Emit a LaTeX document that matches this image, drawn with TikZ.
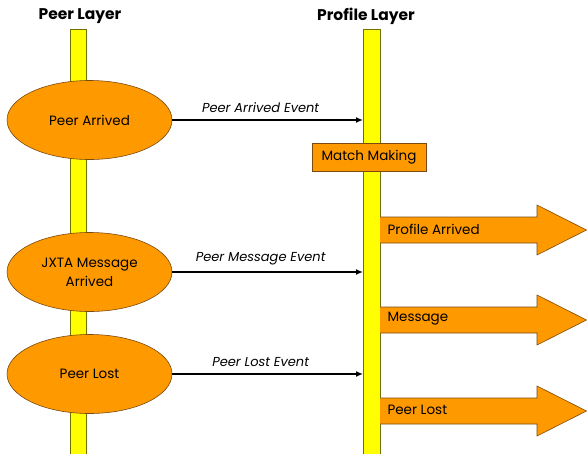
\documentclass[tikz,border=0pt]{standalone}
\usepackage{fontspec}
\setmainfont{Poppins}
\usepackage{tikz}
\usetikzlibrary{arrows.meta}

\definecolor{evorange}{HTML}{FF9900}
\definecolor{evedge}{HTML}{7A4A10}
\definecolor{layeryellow}{HTML}{FFFF00}
\definecolor{layeredge}{HTML}{707000}

\tikzset{
  layerbar/.style={fill=layeryellow, draw=layeredge, line width=0.6pt},
  layertitle/.style={font=\bfseries\fontsize{15.5}{18}\selectfont},
  peerevent/.style={ellipse, fill=evorange, draw=evedge, line width=0.6pt,
    minimum width=165, minimum height=79, align=center, inner sep=0pt,
    font=\fontsize{13.5}{19}\selectfont},
  eventline/.style={-{Latex[length=7pt,width=6pt]}, line width=1.6pt},
  eventlabel/.style={font=\itshape\fontsize{13}{15}\selectfont, above},
  matchbox/.style={fill=evorange, draw=evedge, line width=0.6pt,
    minimum width=114, minimum height=28, font=\fontsize{13.5}{15}\selectfont},
  fatarrow/.style={fill=evorange, draw=evedge, line width=0.6pt},
  fatlabel/.style={anchor=west, font=\fontsize{13.5}{15}\selectfont}
}
\usetikzlibrary{shapes.geometric}

\begin{document}
\begin{tikzpicture}[x=1pt,y=-1pt]
    \useasboundingbox (0,0) rectangle (587,453);

    % layer bars
    \draw[layerbar] (70,29) rectangle (86,454);
    \draw[layerbar] (363,29) rectangle (380,454);
    \coordinate (plbar) at (363,0);
    \coordinate (plright) at (380,0);

    \node[layertitle] (peertitle) at (80,16) {Peer Layer};
    \node[layertitle] (proftitle) at (366,16) {Profile Layer};

    % peer layer events
    \node[peerevent] (arrived) at (89.5,120) {Peer Arrived};
    \node[peerevent] (message) at (89.5,272) {JXTA Message\\Arrived};
    \node[peerevent] (lost) at (89.5,374) {Peer Lost};

    \draw[eventline] (arrived.east) -- (arrived.east -| plbar)
      node[eventlabel, midway, xshift=-7pt, yshift=3pt] {Peer Arrived Event};
    \draw[eventline] (message.east) -- (message.east -| plbar)
      node[eventlabel, midway, xshift=-7pt, yshift=3pt] {Peer Message Event};
    \draw[eventline] (lost.east) -- (lost.east -| plbar)
      node[eventlabel, midway, xshift=-7pt, yshift=3pt] {Peer Lost Event};

    \node[matchbox] (match) at (369,157) {Match Making};

    % profile layer events
    \foreach \name/\ymid/\txt in {profarr/230/Profile Arrived, profmsg/320/Message, proflost/411/Peer Lost}{
      \draw[fatarrow] (380,\ymid-13) -- (537,\ymid-13) -- (537,\ymid-25)
        -- (586.5,\ymid) -- (537,\ymid+25) -- (537,\ymid+13) -- (380,\ymid+13);
      \node[fatlabel] (\name) at (384,\ymid-1) {\txt};
    }
\end{tikzpicture}
\end{document}
